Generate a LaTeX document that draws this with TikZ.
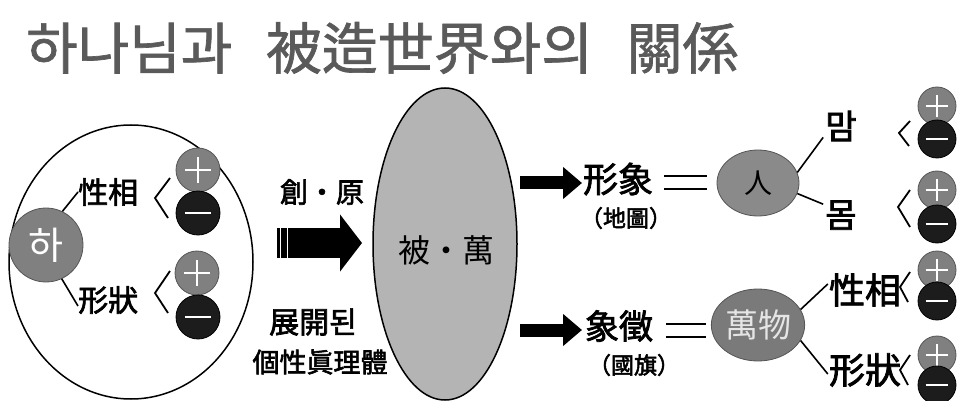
\documentclass[tikz,border=0pt]{standalone}
\usepackage{fontspec}
\setmainfont{Noto Sans CJK KR}
\newfontfamily\titlefont{Noto Sans CJK KR}[FakeBold=1.2]
\newfontfamily\bfont{Noto Sans CJK KR}[FakeBold=2.2]
\usetikzlibrary{arrows.meta,calc,shapes.geometric}
\definecolor{titlegray}{HTML}{5A5A5A}
\definecolor{pgray}{HTML}{808080}
\definecolor{pedge}{HTML}{555555}
\definecolor{mblack}{HTML}{1C1C1C}
\definecolor{midgray}{HTML}{B4B4B4}
\definecolor{cgray}{HTML}{8A8A8A}
\newcommand\fs[1]{\fontsize{#1}{#1}\selectfont}
\tikzset{
  txt/.style={inner sep=0pt, text=black, font=\bfont},
  plusc/.style={circle, inner sep=0pt, minimum size=#1pt, fill=pgray, draw=pedge, line width=0.8pt,
    path picture={\draw[white, line width=1.3pt]
      ([xshift=-0.3*#1pt]path picture bounding box.center) -- ([xshift=0.3*#1pt]path picture bounding box.center)
      ([yshift=-0.3*#1pt]path picture bounding box.center) -- ([yshift=0.3*#1pt]path picture bounding box.center);}},
  minusc/.style={circle, inner sep=0pt, minimum size=#1pt, fill=mblack, draw=black, line width=0.8pt,
    path picture={\draw[white, line width=1.3pt]
      ([xshift=-0.3*#1pt]path picture bounding box.center) -- ([xshift=0.3*#1pt]path picture bounding box.center);}},
  bracket/.style={line width=1.8pt, line join=miter},
  branch/.style={line width=1.6pt},
  bigarrow/.style={line width=30pt, -{Triangle[length=22pt,width=56pt]}},
  smallarrow/.style={line width=13pt, -{Triangle[length=19pt,width=31pt]}},
  eqline/.style={line width=2pt},
  bigell/.style={ellipse, draw=black, line width=1.5pt, inner sep=0pt},
  circ/.style={ellipse, fill=cgray, draw=pedge, line width=0.8pt, inner sep=0pt},
}
\begin{document}
\begin{tikzpicture}[x=1pt,y=-1pt]
\useasboundingbox[fill=white] (0,0) rectangle (959,401);
% title
\node[inner sep=0pt, text=titlegray, anchor=west, font=\titlefont] (title) at (26,48) {\fs{56}하나님과\hspace{0.6em}被造世界와의\hspace{0.6em}關係};

% ---------- left ellipse ----------
\node[bigell, minimum width=244pt, minimum height=274pt] (left) at (131,262) {};
\node[circ, fill=pgray, minimum width=74pt, minimum height=74pt, text=white] (ha) at (46,245) {\fs{38}하};
\node[txt, anchor=west] (xs1) at (78,192) {\fs{30}性相};
\node[txt, anchor=west] (hs1) at (78,300) {\fs{30}形狀};
\draw[branch] (ha.64) -- (xs1.west);
\draw[branch] (ha.-65) -- ([yshift=-6pt]hs1.west);
\coordinate (b1t) at (170,178); \coordinate (b1m) at (155,198); \coordinate (b1b) at (168,218);
\draw[bracket] (b1t) -- (b1m) -- (b1b);
\coordinate (b2t) at (170,271); \coordinate (b2m) at (155,293); \coordinate (b2b) at (168,313);
\draw[bracket] (b2t) -- (b2m) -- (b2b);
\node[plusc=44] (p1) at (198,170) {};
\node[minusc=44] (m1) at (198,213) {};
\node[plusc=44] (p2) at (197,273) {};
\node[minusc=44] (m2) at (198,317) {};

% ---------- middle ----------
\node[txt] (chang) at (322,192) {\fs{28}創・原};
\coordinate (aL) at (277,243);
\coordinate (aR) at (362,243);
\draw[bigarrow] (aL) -- (aR);
\draw[white, line width=1.4pt] (280.5,228) -- (280.5,258) (287.5,228) -- (287.5,258);
\node[txt] (jg) at (313,322) {\fs{30}展開된};
\node[txt] (gs) at (320,362) {\fs{27}個性眞理體};
\node[bigell, fill=midgray, minimum width=144pt, minimum height=312pt] (mid) at (445,244) {};
\node[inner sep=0pt] (pm) at (446,250) {\fs{32}被・萬};

% ---------- right upper ----------
\coordinate (u1) at (520,183); \coordinate (u2) at (582,183);
\draw[smallarrow] (u1) -- (u2);
\node[txt] (hx) at (618,179) {\fs{35}形象};
\node[txt] (dd) at (626,218) {\fs{23}（地圖）};
\coordinate (e1a) at (664,176); \coordinate (e1b) at (707,176);
\coordinate (e2a) at (664,189); \coordinate (e2b) at (707,189);
\draw[eqline] (e1a) -- (e1b); \draw[eqline] (e2a) -- (e2b);
\node[circ, minimum width=82pt, minimum height=66pt] (in) at (758,183) {\fs{28}人};
\node[txt] (mam) at (841,126) {\fs{34}맘};
\node[txt] (mom) at (841,215) {\fs{34}몸};
\draw[branch] (in.15) -- ([xshift=-2pt,yshift=4pt]mam.south west);
\draw[branch] (in.-15) -- ([xshift=-2pt,yshift=-4pt]mom.north west);
\draw[bracket] (910,121) -- (899,133) -- (909,146);
\draw[bracket] (910,190) -- (898,207) -- (910,227);
\node[plusc=38] (p3) at (937,106) {};
\node[minusc=38] (m3) at (937,139) {};
\node[plusc=38] (p4) at (937,190) {};
\node[minusc=38] (m4) at (937,224) {};

% ---------- right lower ----------
\coordinate (l1) at (520,330); \coordinate (l2) at (582,330);
\draw[smallarrow] (l1) -- (l2);
\node[txt] (sj) at (619,326) {\fs{34}象徵};
\node[txt] (gg) at (634,365) {\fs{23}（國旗）};
\coordinate (e3a) at (666,324); \coordinate (e3b) at (706,324);
\coordinate (e4a) at (666,337); \coordinate (e4b) at (706,337);
\draw[eqline] (e3a) -- (e3b); \draw[eqline] (e4a) -- (e4b);
\node[circ, fill=pgray!95!black, minimum width=84pt, minimum height=72pt, text=white!90!black] (mw) at (758,325) {\fs{33}萬物};
\node[txt] (xs2) at (865,290) {\fs{36}性相};
\node[txt] (hs2) at (865,370) {\fs{36}形狀};
\draw[branch] (mw.20) -- ([xshift=-1pt,yshift=6pt]xs2.west);
\draw[branch] (mw.-20) -- ([xshift=-1pt,yshift=-4pt]hs2.west);
\draw[bracket] (910,272) -- (900,287) -- (908,302);
\draw[bracket] (910,355) -- (900,370) -- (908,385);
\node[plusc=38] (p5) at (937,270) {};
\node[minusc=38] (m5) at (937,301) {};
\node[plusc=38] (p6) at (937,355) {};
\node[minusc=38] (m6) at (937,385) {};
\end{tikzpicture}
\end{document}
